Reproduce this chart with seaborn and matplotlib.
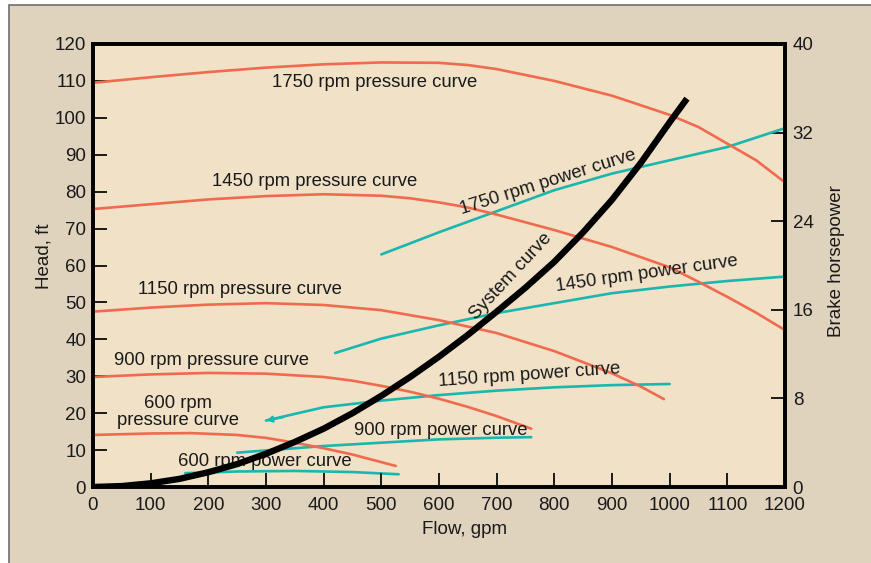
import numpy as np
import pandas as pd
import matplotlib
matplotlib.use("Agg")
import matplotlib.pyplot as plt
from matplotlib import font_manager
from matplotlib.patches import Rectangle
import seaborn as sns

# ---------------- data ----------------
flow_1750_p = [0, 100, 200, 300, 400, 500, 600, 650, 700, 800, 900, 1000, 1050, 1100, 1150, 1200]
head_1750_p = [109.5, 111.0, 112.4, 113.6, 114.5, 115.0, 114.9, 114.3, 113.2, 110.0, 106.0, 100.8, 97.5, 93.0, 88.5, 82.5]

flow_1450_p = [0, 100, 200, 300, 400, 500, 550, 600, 650, 700, 800, 900, 1000, 1050, 1100, 1150, 1200]
head_1450_p = [75.3, 76.6, 77.9, 78.8, 79.3, 78.9, 78.2, 77.1, 75.7, 73.8, 69.6, 65.0, 59.5, 55.6, 51.5, 47.2, 42.5]

flow_1150_p = [0, 100, 200, 300, 400, 500, 600, 700, 800, 900, 950, 990]
head_1150_p = [47.5, 48.6, 49.4, 49.8, 49.3, 47.9, 45.2, 41.7, 36.8, 30.8, 27.2, 23.8]

flow_900_p = [0, 100, 200, 300, 400, 450, 500, 550, 600, 650, 700, 760]
head_900_p = [29.8, 30.5, 30.9, 30.7, 29.8, 28.8, 27.4, 25.8, 23.9, 21.7, 19.2, 15.8]

flow_600_p = [0, 100, 170, 250, 300, 350, 400, 450, 525]
head_600_p = [14.1, 14.5, 14.6, 14.1, 13.3, 12.0, 10.5, 8.8, 5.7]

flow_sys = [0, 50, 100, 150, 200, 250, 300, 350, 400, 450, 500, 550, 600, 650,
            700, 750, 800, 850, 900, 950, 1000, 1030]
head_sys = [0, 0.25, 1.0, 2.2, 4.0, 6.2, 9.0, 12.2, 15.8, 20.0, 24.7, 29.8, 35.3, 41.2,
            47.5, 54.0, 61.0, 69.0, 77.8, 87.8, 98.8, 105.2]

flow_1750_w = [500, 600, 700, 800, 900, 1000, 1100, 1200]
bhp_1750_w = [21.0, 23.0, 24.9, 26.8, 28.3, 29.5, 30.7, 32.4]

flow_1450_w = [420, 500, 600, 700, 800, 900, 1000, 1100, 1200]
bhp_1450_w = [12.1, 13.4, 14.6, 15.7, 16.6, 17.5, 18.1, 18.6, 19.0]

flow_1150_w = [300, 400, 500, 600, 700, 800, 900, 1000]
bhp_1150_w = [6.0, 7.2, 7.8, 8.3, 8.7, 9.0, 9.2, 9.3]

flow_900_w = [250, 300, 400, 500, 600, 700, 760]
bhp_900_w = [3.1, 3.3, 3.7, 4.0, 4.3, 4.45, 4.5]

flow_600_w = [160, 250, 350, 450, 530]
bhp_600_w = [1.25, 1.4, 1.45, 1.35, 1.15]

x_ticks = [0, 100, 200, 300, 400, 500, 600, 700, 800, 900, 1000, 1100, 1200]
y_ticks = [0, 10, 20, 30, 40, 50, 60, 70, 80, 90, 100, 110, 120]
y2_ticks = [0, 8, 16, 24, 32, 40]

# labels: (text, flow, head, rotation)
curve_labels = [
    ("1750 rpm pressure curve", 489, 109.5, 0),
    ("1450 rpm pressure curve", 385, 82.7, 0),
    ("1150 rpm pressure curve", 255, 53.4, 0),
    ("900 rpm pressure curve", 206, 34.4, 0),
    ("600 rpm\npressure curve", 147, 20.3, 0),
    ("600 rpm power curve", 298, 6.8, 0),
    ("900 rpm power curve", 603, 15.4, 0),
    ("1150 rpm power curve", 756, 30.3, 4),
    ("1450 rpm power curve", 960, 57.7, 8),
    ("1750 rpm power curve", 790, 82.6, 17.5),
    ("System curve", 724, 57.0, 47),
]

# ---------------- style ----------------
sns.set_theme(style="ticks")
avail = {f.name for f in font_manager.fontManager.ttflist}
if "Liberation Sans Narrow" in avail:
    fam = "Liberation Sans Narrow"
    scale = 1.0
else:
    fam = "Liberation Sans"
    scale = 0.86
plt.rcParams["font.family"] = [fam, "DejaVu Sans"]

RED = "#f06a4e"
TEAL = "#1ab7af"
OUTER = "#e0d3be"
INNER = "#f0e1c7"
TXT = "#1a1a1a"

fig = plt.figure(figsize=(8.71, 5.63), dpi=100)
fig.patch.set_facecolor("white")
fig.patches.append(Rectangle((9 / 871, -0.05), 1.0, (563 - 5) / 563 + 0.05,
                             transform=fig.transFigure, facecolor=OUTER,
                             edgecolor="#6e6e6e", linewidth=1.2, zorder=0))

ax = fig.add_axes([93 / 871, (563 - 487) / 563, (785 - 93) / 871, (487 - 44) / 563])
ax2 = ax.twinx()

ax.set_zorder(2)
ax.patch.set_visible(False)
ax2.set_zorder(1)
ax2.patch.set_visible(True)
ax2.set_facecolor(INNER)

lw = 1.9
for fl, hd in [(flow_1750_p, head_1750_p), (flow_1450_p, head_1450_p),
               (flow_1150_p, head_1150_p), (flow_900_p, head_900_p),
               (flow_600_p, head_600_p)]:
    sns.lineplot(x=fl, y=hd, ax=ax, color=RED, lw=lw, legend=False, sort=False)

for fl, bh in [(flow_1750_w, bhp_1750_w), (flow_1450_w, bhp_1450_w),
               (flow_1150_w, bhp_1150_w), (flow_900_w, bhp_900_w),
               (flow_600_w, bhp_600_w)]:
    sns.lineplot(x=fl, y=bh, ax=ax2, color=TEAL, lw=lw, legend=False, sort=False)

# small arrow head at start of 1150 rpm power curve
ax2.annotate("", xy=(flow_1150_w[0], bhp_1150_w[0]),
             xytext=(flow_1150_w[0] + 30, bhp_1150_w[0] + 0.3),
             arrowprops=dict(arrowstyle="-|>", color=TEAL, lw=1.5,
                             mutation_scale=9, shrinkA=0, shrinkB=0))

sns.lineplot(x=flow_sys, y=head_sys, ax=ax, color="black", lw=4.6,
             legend=False, sort=False, zorder=6,
             solid_capstyle="butt", solid_joinstyle="round")

fs_lab = 15.5 * scale
for txt, fx, hy, rot in curve_labels:
    ax.text(fx, hy, txt, ha="center", va="center", rotation=rot,
            rotation_mode="anchor", fontsize=fs_lab, color=TXT,
            linespacing=1.05, zorder=4)

ax.set_xlim(0, 1200)
ax.set_ylim(0, 120)
ax2.set_ylim(0, 40)
ax.set_xticks(x_ticks)
ax.set_xticklabels([str(v) for v in x_ticks])
ax.set_yticks(y_ticks)
ax.set_yticklabels([str(v) for v in y_ticks])
ax2.set_yticks(y2_ticks)
ax2.set_yticklabels([str(v) for v in y2_ticks])

fs_tick = 15.7 * scale
ax.tick_params(axis="x", direction="in", length=10, width=1.4, colors=TXT,
               labelsize=fs_tick, pad=7)
ax.tick_params(axis="y", direction="in", length=10, width=1.4, colors=TXT,
               labelsize=fs_tick, pad=5)
ax2.tick_params(axis="y", direction="in", length=10, width=1.4, colors=TXT,
                labelsize=fs_tick, pad=5.5)

for a in (ax, ax2):
    for s in a.spines.values():
        s.set_linewidth(2.6)
        s.set_color("black")
        s.set_visible(True)

ax.set_xlabel("")
ax.set_ylabel("")
ax2.set_ylabel("")
fs_axl = 15.7 * scale
fig.text(465 / 871, 1 - 530 / 563, "Flow, gpm", ha="center", va="center",
         fontsize=fs_axl, color=TXT)
fig.text(44 / 871, 1 - 256 / 563, "Head, ft", ha="center", va="center",
         rotation=90, fontsize=fs_axl, color=TXT)
fig.text(836 / 871, 1 - 261 / 563, "Brake horsepower", ha="center", va="center",
         rotation=90, fontsize=fs_axl, color=TXT)

fig.savefig("out.png", dpi=100, facecolor=fig.get_facecolor())
